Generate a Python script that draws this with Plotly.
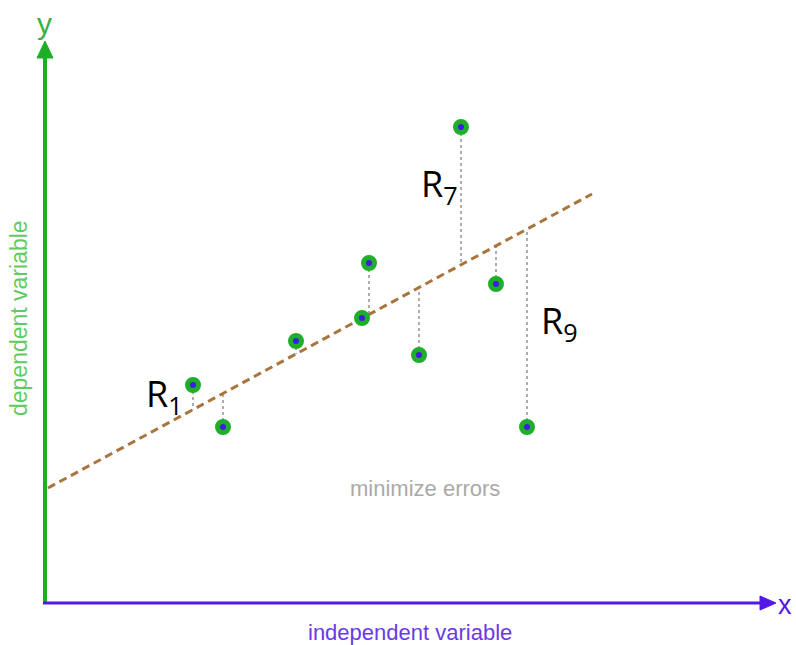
import plotly.graph_objects as go

# data (abstract units: origin at axis corner)
pts_x = [148, 178, 251, 317, 324, 374, 416, 451, 482]
pts_y = [218, 176, 262, 285, 340, 248, 476, 319, 176]
fit_intercept = 113.4
fit_slope = 0.5404
fit_x = [3, 547]
residual_labels = ["R<sub>1</sub>", "R<sub>7</sub>", "R<sub>9</sub>"]
label_pos = [(119, 208), (394, 418), (514, 281)]

GREEN = "#1fae2a"
PURPLE = "#5418e6"
BLUE = "#3b1fe0"
BROWN = "#a9753c"

def fit(x):
    return fit_intercept + fit_slope * x

fig = go.Figure()

# residual lines
for x, y in zip(pts_x, pts_y):
    fig.add_trace(go.Scatter(x=[x, x], y=[y, fit(x)], mode="lines",
                             line=dict(color="#9a9a9a", width=1.6, dash="dot"),
                             hoverinfo="skip", showlegend=False))

# regression line
fig.add_trace(go.Scatter(x=fit_x, y=[fit(v) for v in fit_x], mode="lines",
                         line=dict(color=BROWN, width=3, dash="8px,5px"),
                         showlegend=False))

# points
fig.add_trace(go.Scatter(x=pts_x, y=pts_y, mode="markers",
                         marker=dict(size=11, color=BLUE, line=dict(color=GREEN, width=5)),
                         showlegend=False))

shapes = [
    # y axis
    dict(type="line", x0=0, y0=0, x1=0, y1=548, xref="x", yref="y",
         line=dict(color=GREEN, width=4)),
    dict(type="path", path="M -8 545 L 8 545 L 0 562 Z", xref="x", yref="y",
         fillcolor=GREEN, line=dict(color=GREEN, width=1)),
    # x axis
    dict(type="line", x0=-2, y0=0, x1=718, y1=0, xref="x", yref="y",
         line=dict(color=PURPLE, width=3)),
    dict(type="path", path="M 715 -7 L 715 7 L 731 0 Z", xref="x", yref="y",
         fillcolor=PURPLE, line=dict(color=PURPLE, width=1)),
]

annotations = []
annotations.append(dict(x=-1, y=580, text="y", showarrow=False, xref="x", yref="y",
                        font=dict(size=30, color="#3cb043", family="Liberation Sans")))
annotations.append(dict(x=733, y=-2, text="x", showarrow=False, xref="x", yref="y",
                        xanchor="left", xshift=-2,
                        font=dict(size=27, color=PURPLE, family="Liberation Sans")))
annotations.append(dict(x=-26, y=285, text="dependent variable", showarrow=False, xref="x", yref="y",
                        textangle=-90, font=dict(size=23, color="#5fcc5f", family="Liberation Sans")))
annotations.append(dict(x=365, y=-29, text="independent variable", showarrow=False, xref="x", yref="y",
                        font=dict(size=22, color="#6a3ae8", family="Liberation Sans")))
annotations.append(dict(x=380, y=115, text="minimize errors", showarrow=False, xref="x", yref="y",
                        font=dict(size=22, color="#aaaaaa", family="Liberation Sans")))

for (lx, ly), txt in zip(label_pos, residual_labels):
    annotations.append(dict(x=lx, y=ly, text=txt, showarrow=False, xref="x", yref="y",
                            font=dict(size=36, color="black", family="Open Sans")))

fig.update_layout(
    width=796, height=645,
    margin=dict(l=0, r=0, t=0, b=0),
    paper_bgcolor="white", plot_bgcolor="white",
    xaxis=dict(range=[-45, 751], visible=False, fixedrange=True),
    yaxis=dict(range=[-42, 603], visible=False, fixedrange=True),
    shapes=shapes,
    annotations=annotations,
    showlegend=False,
)

fig.write_html("out.html", config={"displayModeBar": False},
               post_script="document.body.style.margin='0';document.body.style.overflow='hidden';")
